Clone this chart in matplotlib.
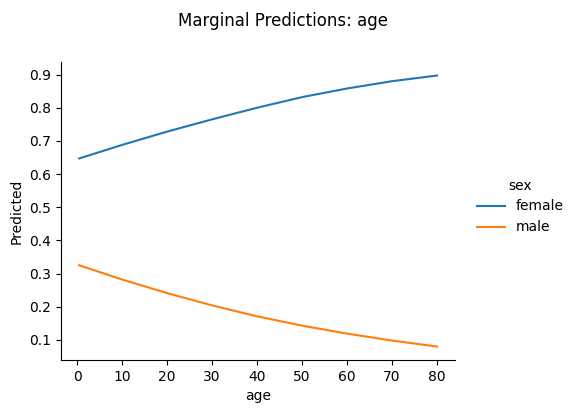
import matplotlib
matplotlib.use("Agg")
from matplotlib import pyplot as plt

# values
age = [0.42, 10, 20, 30, 40, 50, 60, 70, 80]
female = [0.647, 0.688, 0.728, 0.765, 0.800, 0.832, 0.858, 0.880, 0.897]
male = [0.325, 0.282, 0.241, 0.204, 0.171, 0.143, 0.119, 0.098, 0.080]
groups = ["female", "male"]

fig = plt.figure(figsize=(5.76, 4.13), dpi=100)
ax = fig.add_axes([0.106, 0.128, 0.684, 0.722])

ax.plot(age, female, color="#1f77b4", lw=1.5, label=groups[0])
ax.plot(age, male, color="#ff7f0e", lw=1.5, label=groups[1])

ax.set_xlabel("age")
ax.set_ylabel("Predicted")
ax.set_xticks(range(0, 81, 10))
ax.set_yticks([0.1, 0.2, 0.3, 0.4, 0.5, 0.6, 0.7, 0.8, 0.9])
ax.set_xlim(-3.6, 84.0)
ax.set_ylim(0.039, 0.938)
ax.spines["top"].set_visible(False)
ax.spines["right"].set_visible(False)

fig.suptitle("Marginal Predictions: age", x=0.491, y=0.97, fontsize=12)
fig.legend(title="sex", loc="center left", bbox_to_anchor=(0.806, 0.5), frameon=False)

fig.savefig("out.png", dpi=100)
